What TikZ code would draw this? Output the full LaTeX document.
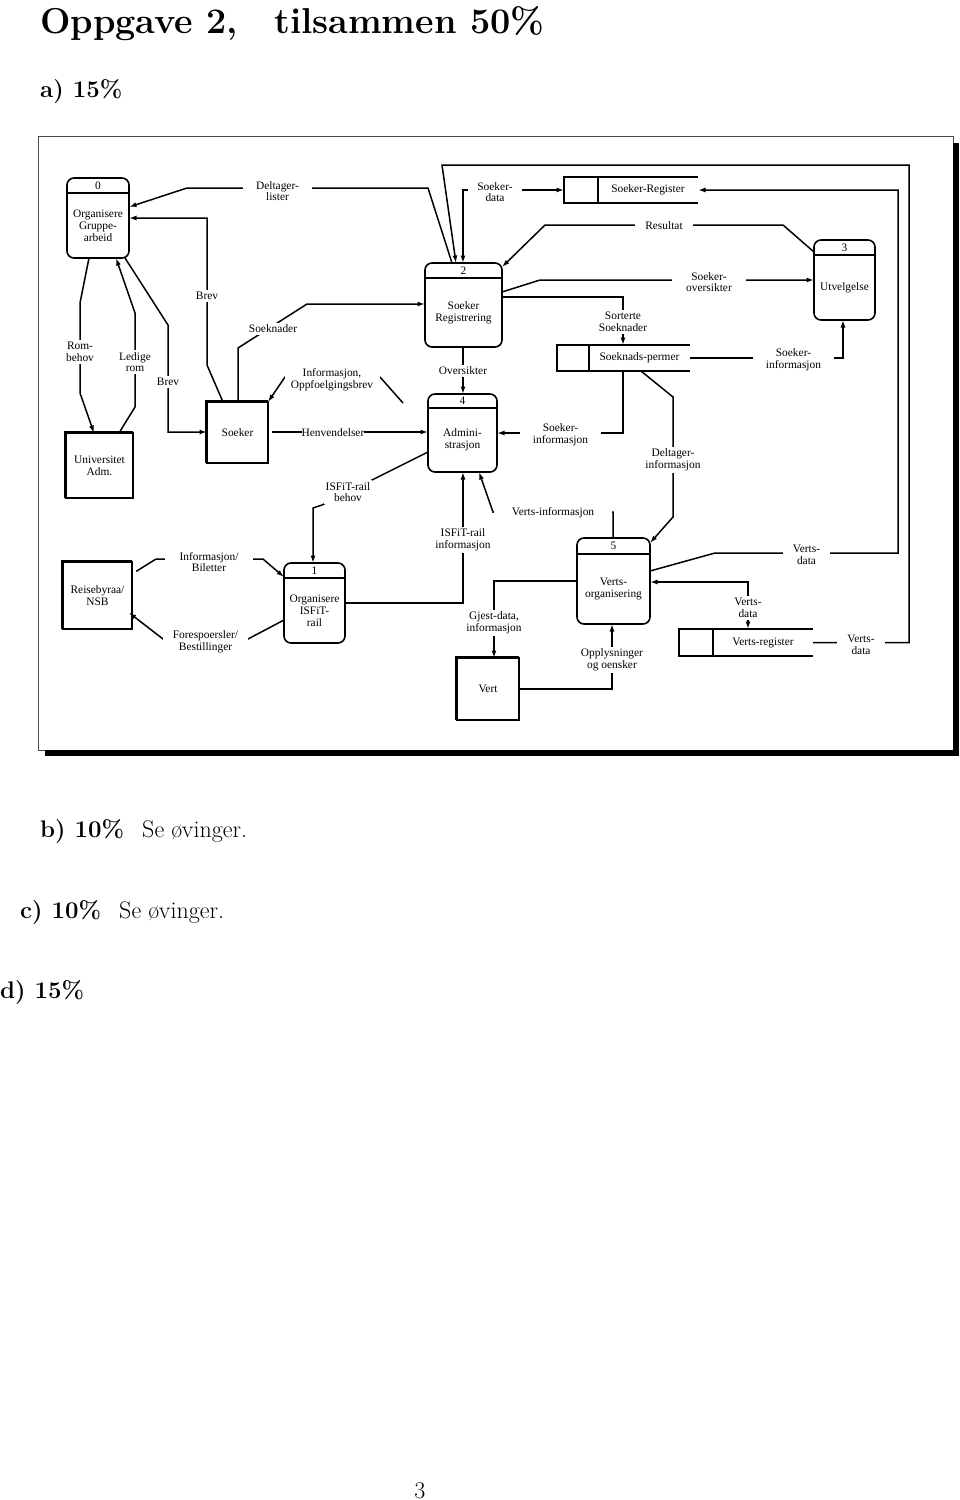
\documentclass[tikz,border=0pt]{standalone}
\usepackage{fontspec}
\usetikzlibrary{arrows.meta,calc}
\newfontfamily\tms{Liberation Serif}
\newcommand\procbox[8]{%
  \node[procshape, minimum width=#4pt, minimum height=#5pt] (#1) at (#2,#3) {};
  \draw[boxline] ([yshift=-#6pt]#1.north west) -- ([yshift=-#6pt]#1.north east);
  \node[lbl] (#1n) at ([yshift=-#6pt/2]#1.north) {#7};
  \node[lbl] (#1t) at ($([yshift=-#6pt]#1.north)!0.5!(#1.south)$) {#8};
}
\newcommand\storebox[7]{%
  \node[storeshape, minimum width=#4pt, minimum height=#5pt] (#1) at (#2,#3) {};
  \draw[boxline] (#1.north east) -- (#1.north west) -- (#1.south west) -- (#1.south east);
  \draw[boxline] ([xshift=#6pt]#1.north west) -- ([xshift=#6pt]#1.south west);
  \node[lbl] (#1t) at ($([xshift=#6pt]#1.west)!0.5!(#1.east)$) {#7};
}
\newcommand\entitybox[6]{%
  \node[entshape, minimum width=#4pt, minimum height=#5pt] (#1) at (#2,#3) {#6};
  \draw[line width=2.8pt] ([xshift=-1pt]#1.south west) |- ([yshift=1pt]#1.north east);
}
\begin{document}
\begin{tikzpicture}[x=1pt,y=-1pt,
  lbl/.style={font=\tms\fontsize{11.4}{11.8}\selectfont, align=center, inner sep=1pt},
  wlbl/.style={lbl, fill=white, inner sep=2pt},
  boxline/.style={line width=1.6pt},
  procshape/.style={draw, boxline, rounded corners=7pt, inner sep=0pt, outer sep=0pt},
  storeshape/.style={inner sep=0pt, outer sep=0pt},
  entshape/.style={lbl, draw, boxline, inner sep=0pt, outer sep=0pt},
  wire/.style={line width=1.5pt},
  flow/.style={wire, -{Latex[length=7.5pt,width=5pt]}},
  flowtwo/.style={wire, {Latex[length=7.5pt,width=5pt]}-{Latex[length=7.5pt,width=5pt]}},
  head/.style={anchor=base west, inner sep=0pt}
]
\useasboundingbox (0,0) rectangle (960,1500);

% page texts
\node[head, font=\bfseries\fontsize{36}{40}\selectfont] (title) at (40,33) {Oppgave 2,\quad tilsammen 50\%};
\node[head, font=\bfseries\fontsize{24}{28}\selectfont] (qa) at (40,97) {a)~15\%};
\node[head, font=\bfseries\fontsize{24}{28}\selectfont] (qb) at (40,837) {b)~10\%~~{\mdseries Se øvinger.}};
\node[head, font=\bfseries\fontsize{24}{28}\selectfont] (qc) at (20,918) {c)~10\%~~{\mdseries Se øvinger.}};
\node[head, font=\bfseries\fontsize{24}{28}\selectfont] (qd) at (0,998) {d)~15\%};
\node[anchor=base, inner sep=0pt, font=\fontsize{24}{28}\selectfont] (pg) at (420,1498) {3};

% frame with shadow
\draw[line width=0.8pt, black!70] (38,136) rectangle (953,750);
\fill (953,143) rectangle (959,756);
\fill (45,750) rectangle (959,756);

% processes
\procbox{p0}{98}{218}{62}{80}{15}{0}{Organisere\\Gruppe-\\arbeid}
\procbox{p2}{463.5}{305}{77}{84}{15}{2}{Soeker\\Registrering}
\procbox{p4}{462.5}{433}{69}{78}{14}{4}{Admini-\\strasjon}
\procbox{p3}{844.5}{280}{61}{80}{15}{3}{Utvelgelse}
\procbox{p1}{314.5}{603}{61}{80}{15}{1}{Organisere\\ISFiT-\\rail}
\procbox{p5}{613.5}{581}{73}{86}{16}{5}{Verts-\\organisering}

% data stores
\storebox{s1}{631}{190}{134}{26}{34}{Soeker-Register}
\storebox{s2}{623.5}{358}{133}{26}{32}{Soeknads-permer}
\storebox{s3}{746}{642.5}{134}{27}{34}{Verts-register}

% external entities
\entitybox{univ}{99.5}{465.5}{67}{65}{Universitet\\Adm.}
\entitybox{soeker}{237.5}{432.5}{61}{61}{Soeker}
\entitybox{reise}{97.5}{595.5}{69}{67}{Reisebyraa/\\NSB}
\entitybox{vert}{488}{689}{62}{62}{Vert}

% connectors
\draw[flow] (452,0 |- p2.north) -- (428,188) -- (187,188) -- (p0.east |- 0,207);
\draw[flow] (223,0 |- soeker.north) -- (207,365) -- (207,218) -- (p0.east |- 0,218);
\draw[flow] (89,0 |- p0.south) -- (80,303) -- (80,393) -- (94,0 |- univ.north);
\draw[flow] (119,0 |- univ.north) -- (135,407) -- (135,313) -- (116,0 |- p0.south);
\draw[flow] (125,0 |- p0.south) -- (168,325) -- (168,432) -- (soeker.west |- 0,432);
\draw[flow] (238,0 |- soeker.north) -- (238,348) -- (307,304) -- (p2.west |- 0,304);
\coordinate (c7) at (403,403);
\draw[flow] (c7) -- (380,377) -- (285,377) -- (soeker.north east);
\draw[flow, shorten <=4pt] (soeker.east |- 0,432) -- (p4.west |- 0,432);
\draw[flow] (p4.west |- 0,452) -- (322,505) -- (313,508) -- (313,0 |- p1.north);
\draw[flow] (p1.east |- 0,603) -- (463,603) -- (463,0 |- p4.south);
\draw[flow] (613,0 |- p5.north) -- (613,512) -- (493,512) -- (479,0 |- p4.south);
\draw[flow] (463,0 |- p2.south) -- (463,0 |- p4.north);
\draw[flowtwo] (463,0 |- p2.north) -- (463,190) -- (s1.west);
\draw[flow] (s3.east) -- (909,642.5) -- (909,165) -- (442,165) -- (456,0 |- p2.north);
\draw[flow] (p5.east |- 0,571) -- (715,553) -- (898,553) -- (898,190) -- (s1.east);
\draw[flow] (p3.west |- 0,252) -- (783,225) -- (545,225) -- (p2.east |- 0,267);
\draw[flow] (p2.east |- 0,292) -- (540,280) -- (p3.west |- 0,280);
\draw[flow] (p2.east |- 0,297) -- (623,297) -- (623,0 |- s2.north);
\draw[flow] (s2.east) -- (843,358) -- (843,0 |- p3.south);
\draw[flow] (623,0 |- s2.south) -- (623,433) -- (p4.east |- 0,433);
\draw[flow] (641,0 |- s2.south) -- (673,397) -- (673,517) -- (p5.east |- 0,543);
\draw[flowtwo] (p5.east |- 0,582) -- (748,582) -- (748,0 |- s3.north);
\draw[flow] (p5.west |- 0,581) -- (494,581) -- (494,0 |- vert.north);
\draw[flow] (vert.east |- 0,689) -- (612,689) -- (612,0 |- p5.south);
\draw[flow, shorten <=5pt] (reise.east |- 0,574) -- (156,559) -- (263,559) -- (p1.west |- 0,577);
\draw[flow, shorten >=-4pt] (p1.west |- 0,620) -- (248,639) -- (163,639) -- (reise.east |- 0,615);

% connector labels
\node[wlbl, minimum width=69pt] (l1) at (277.5,191) {Deltager-\\lister};
\node[wlbl] (l2) at (207,296) {Brev};
\node[wlbl] (l3) at (80,352) {Rom-\\behov};
\node[wlbl] (l4) at (135,362) {Ledige\\rom};
\node[wlbl] (l5) at (168,382) {Brev};
\node[wlbl] (l6) at (273,329) {Soeknader};
\node[wlbl, minimum width=95pt] (l7) at (332,380) {Informasjon,\\Oppfoelgingsbrev};
\node[wlbl, inner xsep=0pt] (l8) at (333,433) {Henvendelser};
\node[wlbl] (l9) at (348,492) {ISFiT-rail\\behov};
\node[wlbl] (l10) at (463,540) {ISFiT-rail\\informasjon};
\node[wlbl, minimum width=118pt] (l11) at (553,513) {Verts-informasjon};
\node[wlbl] (l12) at (463,371) {Oversikter};
\node[wlbl, minimum width=54pt] (l13) at (495,192) {Soeker-\\data};
\node[wlbl, minimum width=48pt] (l14) at (861,645) {Verts-\\data};
\node[wlbl, minimum width=47pt] (l15) at (806.5,555) {Verts-\\data};
\node[wlbl, minimum width=58pt] (l16) at (664,226) {Resultat};
\node[wlbl, minimum width=74pt] (l17) at (709,282) {Soeker-\\oversikter};
\node[wlbl] (l18) at (623,322) {Sorterte\\Soeknader};
\node[wlbl, minimum width=81pt] (l19) at (793.5,360) {Soeker-\\informasjon};
\node[wlbl, minimum width=81pt] (l20) at (560.5,435) {Soeker-\\informasjon};
\node[wlbl] (l21) at (673,460) {Deltager-\\informasjon};
\node[wlbl] (l22) at (748,608) {Verts-\\data};
\node[wlbl] (l23) at (494,623) {Gjest-data,\\informasjon};
\node[wlbl] (l24) at (612,660) {Opplysninger\\og oensker};
\node[wlbl, minimum width=88pt] (l25) at (209,562) {Informasjon/\\Biletter};
\node[wlbl, minimum width=85pt] (l26) at (205.5,642) {Forespoersler/\\Bestillinger};
\end{tikzpicture}
\end{document}
